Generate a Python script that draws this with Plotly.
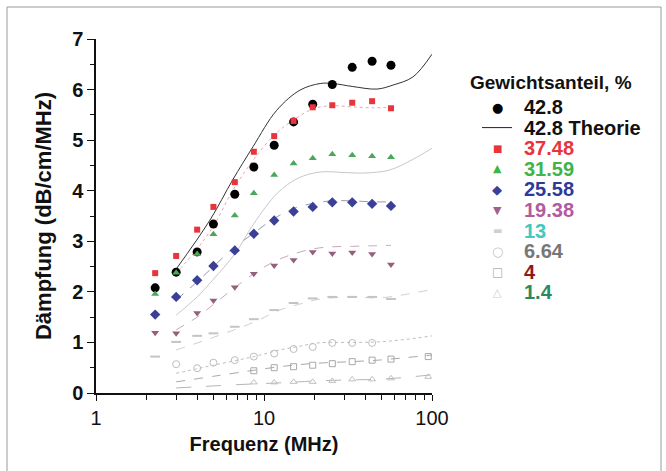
import plotly.graph_objects as go

# ── Data ──────────────────────────────────────────────────────────────────────
FREQ = [2.25, 3, 4, 5, 6.7, 8.7, 11.5, 15, 19.5, 25.5, 33.5, 44, 57]

D_428 = [2.08, 2.39, 2.79, 3.34, 3.93, 4.47, 4.90, 5.36, 5.71, 6.10, 6.44, 6.56, 6.48]
D_3748 = [2.37, 2.71, 3.23, 3.68, 4.17, 4.77, 5.08, 5.38, 5.65, 5.69, 5.74, 5.77, 5.63]
D_3159 = [1.96, 2.38, 2.75, 3.14, 3.51, 3.95, 4.31, 4.54, 4.64, 4.72, 4.70, 4.68, 4.66]
D_2558 = [1.55, 1.90, 2.23, 2.51, 2.82, 3.15, 3.41, 3.59, 3.68, 3.77, 3.77, 3.74, 3.70]
D_1938 = [1.19, 1.18, 1.58, 1.83, 2.09, 2.36, 2.52, 2.63, 2.79, 2.76, 2.78, 2.75, 2.54]
D_13 = [0.72, 1.01, 1.13, 1.18, 1.31, 1.46, 1.64, 1.78, 1.87, 1.90, 1.90, 1.90, 1.86]

FREQ_664 = [3, 4, 5, 6.7, 8.7, 11.5, 15, 19.5, 25.5, 33.5, 44]
D_664 = [0.57, 0.49, 0.60, 0.65, 0.72, 0.78, 0.87, 0.91, 0.99, 0.99, 0.99]

FREQ_LOW = [8.7, 11.5, 15, 19.5, 25.5, 33.5, 44, 57, 95]
D_4 = [0.44, 0.50, 0.52, 0.55, 0.58, 0.62, 0.65, 0.67, 0.72]
D_14 = [0.21, 0.21, 0.22, 0.22, 0.24, 0.27, 0.27, 0.29, 0.32]

# theory curves
T_F_LONG = [3, 4.77, 6.5, 8.6, 11.9, 16.4, 21.6, 25.7, 33.8, 47, 58.7, 77, 100]
T_428 = [2.45, 3.42, 4.21, 4.87, 5.59, 5.99, 6.12, 6.12, 6.06, 6.01, 6.09, 6.25, 6.70]

T_F_SHORT = [3, 4, 5, 6.5, 8.6, 11.5, 15, 19.6, 25, 33, 44, 57]
T_3748 = [2.37, 2.85, 3.30, 4.00, 4.60, 5.10, 5.40, 5.62, 5.68, 5.66, 5.64, 5.65]
T_2558 = [1.84, 2.20, 2.50, 2.85, 3.15, 3.45, 3.65, 3.75, 3.80, 3.80, 3.78, 3.78]
T_1938 = [1.25, 1.50, 1.75, 2.05, 2.35, 2.60, 2.75, 2.85, 2.89, 2.90, 2.91, 2.92]

T_F_3159 = [3, 4, 5, 6.7, 8.7, 12, 16, 21.6, 30, 40, 56, 75, 100]
T_3159 = [1.54, 1.90, 2.25, 2.75, 3.35, 3.95, 4.25, 4.37, 4.36, 4.35, 4.41, 4.60, 4.84]

T_F_LOW = [3, 5, 8.7, 12.4, 16, 21, 33, 48, 70, 100]
T_13 = [0.85, 1.10, 1.40, 1.64, 1.75, 1.85, 1.90, 1.88, 1.95, 2.05]
T_664 = [0.39, 0.55, 0.72, 0.85, 0.92, 0.99, 1.00, 1.01, 1.06, 1.13]
T_4 = [0.22, 0.33, 0.45, 0.52, 0.56, 0.59, 0.62, 0.65, 0.70, 0.75]
T_14 = [0.10, 0.14, 0.18, 0.20, 0.22, 0.24, 0.26, 0.27, 0.31, 0.36]

# legend rows: label, text colour, symbol, symbol colour, symbol size
LEGEND_LABELS = ["42.8", "42.8 Theorie", "37.48", "31.59", "25.58", "19.38", "13", "6.64", "4", "1.4"]
LEGEND_COLORS = ["#111", "#111", "#e8343c", "#3db54a", "#2e3a9a", "#b05ca0", "#45c6c0",
                 "#777777", "#8a1a1c", "#2a8a5c"]
LEGEND_SYMBOLS = ["●", None, "■", "▲", "◆", "▼", "▬", "○", "□", "△"]
LEGEND_SYM_COLORS = ["#000", None, "#e8343c", "#3db54a", "#3a3f98", "#a0608a", "#d0d0d0",
                     "#c4c4c4", "#b0b0b0", "#cccccc"]
LEGEND_SYM_SIZES = [13, None, 10, 11, 13, 11, 10, 13, 12, 11]

FONT = "Liberation Sans, Arial, sans-serif"
SYM_FONT = "DejaVu Sans"

# plot area in pixels (figure coordinates)
PL, PR, PT, PB = 96, 432, 39, 393
PW, PH = PR - PL, PB - PT


def px_x(x):
    return (x - PL) / PW


def px_y(y):
    return (PB - y) / PH


fig = go.Figure()

theory = [
    (T_F_SHORT, T_3748, "#e9a6ac", "dot"),
    (T_F_3159, T_3159, "#c8c8c8", "solid"),
    (T_F_SHORT, T_2558, "#9a9ab8", "dash"),
    (T_F_SHORT, T_1938, "#c8a8b8", "dash"),
    (T_F_LOW, T_13, "#cfcfcf", "dash"),
    (T_F_LOW, T_664, "#bdbdbd", "dot"),
    (T_F_LOW, T_4, "#a8a8a8", "dash"),
    (T_F_LOW, T_14, "#b5b5b5", "longdash"),
]
for fx, fy, col, dash in theory:
    fig.add_trace(go.Scatter(x=fx, y=fy, mode="lines",
                             line=dict(color=col, width=1, dash=dash, shape="spline")))

fig.add_trace(go.Scatter(x=T_F_LONG, y=T_428, mode="lines",
                         line=dict(color="#333", width=1, shape="spline")))

series = [
    (FREQ, D_428, "circle", 9, "#000"),
    (FREQ, D_3748, "square", 6, "#e8343c"),
    (FREQ, D_3159, "triangle-up", 7, "#4aa85a"),
    (FREQ, D_2558, "diamond", 8, "#3a3f98"),
    (FREQ, D_1938, "triangle-down", 7, "#94607e"),
    (FREQ_664, D_664, "circle-open", 7, "#bdbdbd"),
    (FREQ_LOW, D_4, "square-open", 6, "#a8a8a8"),
    (FREQ_LOW, D_14, "triangle-up-open", 6, "#c0c0c0"),
]
for fx, fy, sym, size, col in series:
    fig.add_trace(go.Scatter(x=fx, y=fy, mode="markers",
                             marker=dict(symbol=sym, size=size, color=col)))
fig.add_trace(go.Scatter(x=FREQ, y=D_13, mode="markers",
                         marker=dict(symbol="line-ew", size=7, color="#c4c4c4",
                                     line=dict(width=2, color="#c4c4c4"))))

# manual legend
annotations = [dict(text="<b>Gewichtsanteil, %</b>", x=px_x(468), y=px_y(82),
                    xref="paper", yref="paper", xanchor="left", yanchor="middle",
                    showarrow=False, font=dict(size=19, color="#111", family=FONT))]
ROW0, ROW_STEP = 107, 20.6
for i, label in enumerate(LEGEND_LABELS):
    yy = ROW0 + i * ROW_STEP
    annotations.append(dict(text=f"<b>{label}</b>", x=px_x(522), y=px_y(yy),
                            xref="paper", yref="paper", xanchor="left", yanchor="middle",
                            showarrow=False,
                            font=dict(size=20, color=LEGEND_COLORS[i], family=FONT)))
    if LEGEND_SYMBOLS[i]:
        annotations.append(dict(text=LEGEND_SYMBOLS[i], x=px_x(497), y=px_y(yy),
                                xref="paper", yref="paper", xanchor="center",
                                yanchor="middle", showarrow=False,
                                font=dict(size=LEGEND_SYM_SIZES[i],
                                          color=LEGEND_SYM_COLORS[i], family=SYM_FONT)))

theorie_y = px_y(ROW0 + ROW_STEP)
shapes = [
    dict(type="line", xref="paper", yref="paper", x0=px_x(482), x1=px_x(512),
         y0=theorie_y, y1=theorie_y, line=dict(color="#222", width=1)),
    # outer frame of the picture
    dict(type="rect", xref="paper", yref="paper",
         x0=px_x(7), x1=px_x(661), y0=px_y(490), y1=px_y(7),
         line=dict(color="#9a9a9a", width=1)),
]

fig.update_layout(
    width=666, height=471,
    paper_bgcolor="white", plot_bgcolor="white",
    margin=dict(l=PL, r=666 - PR, t=PT, b=471 - PB),
    font=dict(family=FONT, color="#111"),
    showlegend=False,
    annotations=annotations,
    shapes=shapes,
)

fig.update_xaxes(
    type="log", range=[0, 2],
    tickvals=[1, 10, 100], ticktext=["1", "10", "100"],
    ticks="outside", ticklen=6, tickwidth=1.2, tickcolor="#111",
    minor=dict(tickvals=[2, 3, 4, 5, 6, 7, 8, 9, 20, 30, 40, 50, 60, 70, 80, 90],
               ticks="outside", ticklen=5, tickcolor="#111"),
    showline=True, linecolor="#111", linewidth=1.5, showgrid=False, zeroline=False,
    tickfont=dict(size=20, color="#111"),
    title=dict(text="<b>Frequenz (MHz)</b>", font=dict(size=20), standoff=9),
)
fig.update_yaxes(
    range=[0, 7], dtick=1,
    ticks="outside", ticklen=7, tickwidth=1.2, tickcolor="#111",
    minor=dict(dtick=0.5, ticks="outside", ticklen=4, tickcolor="#111"),
    showline=True, linecolor="#111", linewidth=1.5, showgrid=False, zeroline=False,
    tickfont=dict(size=20, weight="bold", color="#111"),
    title=dict(text="<b>Dämpfung (dB/cm/MHz)</b>", font=dict(size=22), standoff=14),
)

# the page body has a default 8px margin; remove it so the figure sits at 0,0
fig.write_html("out.html", config={"displayModeBar": False},
               post_script="document.body.style.margin='0';")
